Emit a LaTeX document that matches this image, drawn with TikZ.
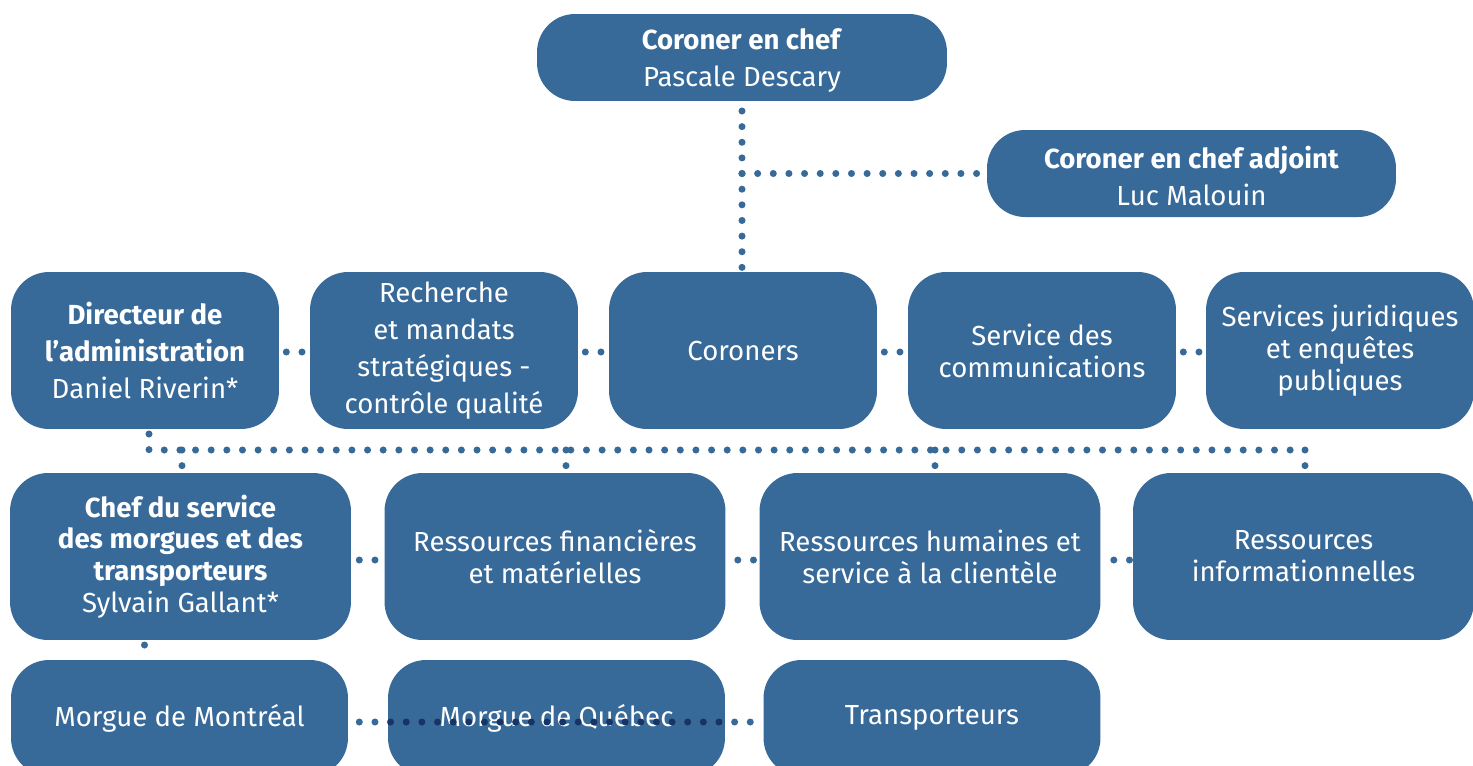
\documentclass[tikz,border=0pt]{standalone}
\usepackage{fontspec}
\setmainfont{Fira Sans}
\usetikzlibrary{backgrounds,calc}
\definecolor{boxblue}{HTML}{376A99}
\definecolor{dotblue}{HTML}{376A99}
\definecolor{dotdark}{HTML}{163464}
\newcommand{\downstrut}{\rule{0pt}{15.5pt}}
\begin{document}
\begin{tikzpicture}[x=0.02cm,y=-0.02cm,
  box/.style={draw=none, fill=boxblue, rounded corners=0.76cm, text=white, align=center, inner sep=0pt},
  fa/.style={font=\fontsize{15.7}{21}\selectfont},
  fb/.style={font=\fontsize{15.7}{18.1}\selectfont},
  topbox/.style={box, fa, minimum height=1.74cm},
  rowtwo/.style={box, minimum width=5.36cm, minimum height=3.14cm},
  rowthree/.style={box, minimum width=6.82cm, minimum height=3.34cm},
  rowfour/.style={box, minimum width=6.74cm, minimum height=2.32cm},
  dotline/.style={dotblue, line width=4pt, line cap=round, dash pattern=on 0pt off 8.9pt}]
\useasboundingbox (0,0) rectangle (1473,765);

% top
\node[topbox, minimum width=8.2cm] (chef) at (742,57.5) {\downstrut\textbf{Coroner en chef}\\Pascale Descary};
\node[topbox, minimum width=8.18cm] (adj) at (1191.5,173.5) {\downstrut\textbf{Coroner en chef adjoint}\\Luc Malouin};

% row 2
\node[rowtwo, fa] (dir) at (145,350.5) {\textbf{Directeur de}\\\textbf{l’administration}\\Daniel Riverin*};
\node[rowtwo, fa] (rec) at (444,350.5) {Recherche\\et mandats\\stratégiques -\\contrôle qualité};
\node[rowtwo, fa] (cor) at (743,350.5) {Coroners};
\node[rowtwo, fb] (com) at (1042,350.5) {Service des\\communications};
\node[rowtwo, fb] (jur) at (1340,350.5) {Services juridiques\\et enquêtes\\publiques};

% row 3
\node[rowthree, fb] (serv) at (180.5,556.5) {\textbf{Chef du service}\\\textbf{des morgues et des}\\\textbf{transporteurs}\\Sylvain Gallant*};
\node[rowthree, fb] (fin) at (555,556.5) {Ressources financières\\et matérielles};
\node[rowthree, fb] (hum) at (930,556.5) {Ressources humaines et\\service à la clientèle};
\node[rowthree, fb] (inf) at (1303.5,556.5) {Ressources\\informationnelles};

% row 4
\node[rowfour, fa] (mtl) at (179.5,718) {Morgue de Montréal};
\node[rowfour, fa] (qc) at (556.5,718) {Morgue de Québec};
\node[rowfour, fa] (tra) at (932,718) {Transporteurs};

\begin{scope}[on background layer]
  % chief to coroners and deputy
  \coordinate (c0) at (742,111);
  \draw[dotline] (c0) -- (c0 |- cor.north);
  \coordinate (j) at (742,173.5);
  \draw[dotline] (j) -- (adj.west);
  % row 2 links
  \draw[dotline] ($(dir.east)+(7,1.5)$) -- ($(rec.west)+(0,1.5)$);
  \draw[dotline] ($(rec.east)+(7,1.5)$) -- ($(cor.west)+(0,1.5)$);
  \draw[dotline] ($(cor.east)+(7,1.5)$) -- ($(com.west)+(0,1.5)$);
  \draw[dotline] ($(com.east)+(7,1.5)$) -- ($(jur.west)+(0,1.5)$);
  % administration bus
  \coordinate (d0) at (149,434);
  \coordinate (busR) at (1305,450);
  \draw[dotline] (d0) |- (busR);
  \foreach \xx/\nn in {182/serv,566/fin,935/hum,1305/inf}{
    \coordinate (t) at (\xx,450);
    \draw[dotline] (t) -- (t |- \nn.north);
  }
  % row 3 links
  \draw[dotline] ($(serv.east)+(8,3.5)$) -- ($(fin.west)+(0,3.5)$);
  \draw[dotline] ($(fin.east)+(12,3.5)$) -- ($(hum.west)+(0,3.5)$);
  \draw[dotline] ($(hum.east)+(13,3.5)$) -- ($(inf.west)+(0,3.5)$);
  % morgues chief to Montreal
  \coordinate (s1) at (144.5,645);
  \draw[dotline] (s1) -- (s1 |- mtl.north);
  % row 4 link
  \draw[dotline] ($(mtl.east)+(11,4)$) -- ($(tra.west)+(0,4)$);
\end{scope}
% part of the row 4 link that lies over the Quebec box
\begin{scope}
  \clip (qc.north west) rectangle (qc.south east);
  \draw[dotline, dotdark] ($(mtl.east)+(11,4)$) -- ($(tra.west)+(0,4)$);
\end{scope}
\end{tikzpicture}
\end{document}
